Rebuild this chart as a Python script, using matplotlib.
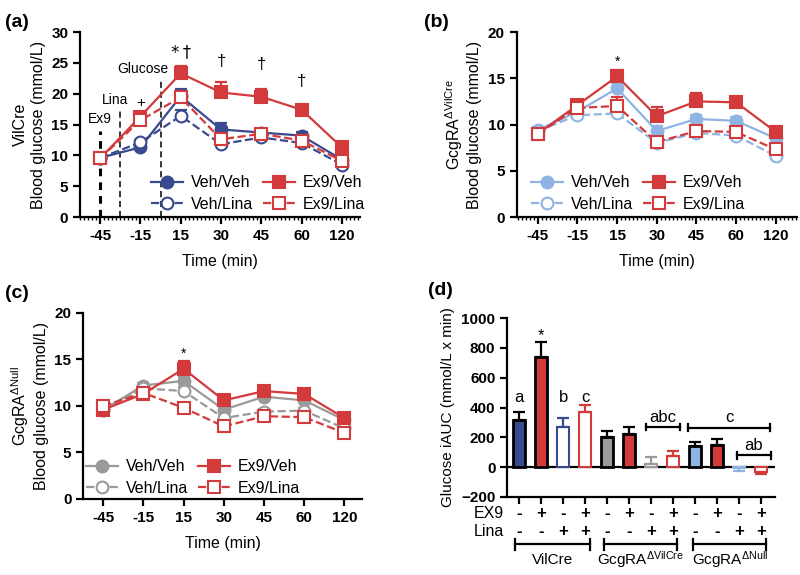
import numpy as np
import matplotlib
matplotlib.use('Agg')
import matplotlib.pyplot as plt
from matplotlib.ticker import MultipleLocator
import matplotlib.transforms as mtrans

plt.rcParams['font.family'] = ['Liberation Sans', 'DejaVu Sans']
plt.rcParams['mathtext.fontset'] = 'custom'
plt.rcParams['mathtext.rm'] = 'Liberation Sans'
plt.rcParams['mathtext.it'] = 'Liberation Sans:italic'
plt.rcParams['mathtext.bf'] = 'Liberation Sans:bold'

times = ['-45', '-15', '15', '30', '45', '60', '120']
series = ['Veh/Veh', 'Veh/Lina', 'Ex9/Veh', 'Ex9/Lina']

# panel a - VilCre
a_vv = [9.6, 11.3, 19.6, 14.2, 13.7, 13.2, 9.3]
a_vl = [9.6, 12.1, 16.4, 11.8, 12.9, 12.0, 8.5]
a_ev = [9.5, 16.3, 23.3, 20.2, 19.5, 17.4, 11.3]
a_el = [9.5, 15.7, 19.4, 12.6, 13.5, 12.4, 9.1]
a_vv_err = [0.3, 0.4, 1.2, 1.0, 0.6, 0.6, 0.5]
a_vl_err = [0.3, 0.4, 1.0, 0.5, 0.4, 0.4, 0.4]
a_ev_err = [0.3, 0.6, 1.2, 1.7, 1.3, 0.6, 0.5]
a_el_err = [0.3, 0.5, 0.8, 0.6, 0.5, 0.5, 0.4]

# panel b - GcgRA dVilCre
b_vv = [9.4, 11.4, 13.9, 9.3, 10.6, 10.4, 8.5]
b_vl = [9.3, 11.0, 11.2, 8.0, 9.1, 8.8, 6.6]
b_ev = [9.0, 12.1, 15.2, 10.9, 12.5, 12.4, 9.2]
b_el = [9.0, 11.8, 12.0, 8.1, 9.3, 9.2, 7.3]
b_vv_err = [0.3, 0.4, 0.6, 0.5, 0.4, 0.4, 0.4]
b_vl_err = [0.3, 0.4, 0.5, 0.3, 0.3, 0.3, 0.3]
b_ev_err = [0.3, 0.4, 0.7, 1.0, 0.9, 0.4, 0.4]
b_el_err = [0.3, 0.4, 1.0, 0.4, 0.4, 0.4, 0.4]

# panel c - GcgRA dNull
c_vv = [9.6, 12.2, 12.7, 9.6, 11.0, 10.6, 8.5]
c_vl = [9.6, 11.9, 11.6, 8.7, 9.4, 9.5, 7.6]
c_ev = [9.6, 11.3, 14.0, 10.6, 11.6, 11.3, 8.7]
c_el = [10.0, 11.4, 9.8, 7.8, 8.9, 8.8, 7.1]
c_vv_err = [0.3, 0.3, 0.4, 0.5, 0.4, 0.4, 0.4]
c_vl_err = [0.3, 0.3, 0.4, 0.3, 0.3, 0.3, 0.3]
c_ev_err = [0.3, 0.3, 0.8, 0.6, 0.3, 0.3, 0.3]
c_el_err = [0.3, 0.3, 0.3, 0.3, 0.3, 0.3, 0.3]

# panel d - iAUC
auc = [316, 742, 267, 370, 204, 222, 20, 76, 141, 152, -5, -30]
auc_err = [56, 96, 60, 47, 36, 49, 45, 32, 25, 36, 20, 15]
ex9_row = ['-', '+', '-', '+'] * 3
lina_row = ['-', '-', '+', '+'] * 3
groups = ['VilCre', r'GcgRA$^{\Delta\mathrm{VilCre}}$', r'GcgRA$^{\Delta\mathrm{Null}}$']

navy = '#3a4a8e'
red = '#d23a3c'
lblue = '#8fb4e3'
grey = '#9a9a9a'

fig = plt.figure(figsize=(8, 5.75), dpi=100)


def style(ax):
    for s in ['top', 'right']:
        ax.spines[s].set_visible(False)
    for s in ['left', 'bottom']:
        ax.spines[s].set_linewidth(1.6)
    ax.tick_params(width=1.6, length=5, labelsize=11)
    for lab in ax.get_xticklabels() + ax.get_yticklabels():
        lab.set_fontweight('bold')


def timecourse(ax, vv, vl, ev, el, errs, col, minor=True):
    x = np.arange(len(times))
    lines = []
    for y, e, c, mk, ls, filled in [(vv, errs[0], col, 'o', '-', True),
                                     (vl, errs[1], col, 'o', '--', False),
                                     (ev, errs[2], red, 's', '-', True),
                                     (el, errs[3], red, 's', '--', False)]:
        ax.errorbar(x, y, yerr=[np.zeros(len(e)), e], fmt='none', ecolor=c,
                    elinewidth=1.6, capsize=4, capthick=1.6, zorder=2)
        ln, = ax.plot(x, y, ls=ls, color=c, lw=1.6, marker=mk, markersize=8.5,
                      markerfacecolor=c if filled else 'white',
                      markeredgecolor=c, markeredgewidth=1.5, zorder=3)
        lines.append(ln)
    ax.set_xticks(x)
    ax.set_xticklabels(times)
    ax.set_xlim(-0.5, 6.45)
    ax.set_xlabel('Time (min)', fontsize=11.5, labelpad=8)
    if minor:
        ax.xaxis.set_minor_locator(MultipleLocator(0.1))
        ax.tick_params(axis='x', which='minor', length=2, width=1)
    style(ax)
    return lines


leg_kw = dict(ncol=2, frameon=False, fontsize=11.5, handlelength=2,
              columnspacing=0.6, handletextpad=0.5, labelspacing=0.4)

# (a)
ax1 = fig.add_axes([0.10, 0.6226, 0.35, 0.3217])
h = timecourse(ax1, a_vv, a_vl, a_ev, a_el,
               [a_vv_err, a_vl_err, a_ev_err, a_el_err], navy)
ax1.set_ylim(0, 30)
ax1.set_yticks(range(0, 31, 5))
ax1.set_ylabel('VilCre\nBlood glucose (mmol/L)', fontsize=11.5)
ax1.vlines(0, 0, 14, colors='k', linestyles=(0, (2.5, 2)), lw=2.2, zorder=1)
ax1.vlines(0.5, 0, 17.5, colors='k', linestyles=(0, (4, 2.5)), lw=1.1, zorder=1)
ax1.vlines(1.5, 0, 22.5, colors='k', linestyles=(0, (4, 2.5)), lw=1.1, zorder=1)
ax1.text(0.0, 15.2, 'Ex9', ha='center', fontsize=10)
ax1.text(0.7, 18.4, 'Lina', ha='right', fontsize=10)
ax1.text(1.7, 23.4, 'Glucose', ha='right', fontsize=10)
ax1.text(1, 17.8, '+', ha='center', fontsize=11)
ax1.text(2, 26.0, '*\u2009\u2020', ha='center', fontsize=12, family=['DejaVu Sans'])
for xi, yi in [(3, 24.5), (4, 24.0), (5, 21.2)]:
    ax1.text(xi, yi, '\u2020', ha='center', fontsize=12)
ax1.legend(h, series, loc='lower right', bbox_to_anchor=(1.07, -0.05), **leg_kw)

# (b)
ax2 = fig.add_axes([0.646, 0.6226, 0.35, 0.3217])
h = timecourse(ax2, b_vv, b_vl, b_ev, b_el,
               [b_vv_err, b_vl_err, b_ev_err, b_el_err], lblue)
ax2.set_xlim(-0.53, 6.53)
ax2.set_ylim(0, 20)
ax2.set_yticks(range(0, 21, 5))
ax2.set_ylabel('GcgRA$^{\\Delta\\mathrm{VilCre}}$\nBlood glucose (mmol/L)', fontsize=11.5)
ax2.text(2, 16.3, '*', ha='center', fontsize=10)
ax2.legend(h, series, loc='lower left', bbox_to_anchor=(0.0, -0.05), **leg_kw)

# (c)
ax3 = fig.add_axes([0.104, 0.1322, 0.349, 0.3235])
h = timecourse(ax3, c_vv, c_vl, c_ev, c_el,
               [c_vv_err, c_vl_err, c_ev_err, c_el_err], grey, minor=False)
ax3.set_ylim(0, 20)
ax3.set_yticks(range(0, 21, 5))
ax3.set_ylabel('GcgRA$^{\\Delta\\mathrm{Null}}$\nBlood glucose (mmol/L)', fontsize=11.5)
ax3.text(2, 15.2, '*', ha='center', fontsize=10)
ax3.legend(h, series, loc='lower left', bbox_to_anchor=(-0.04, -0.06), **leg_kw)

# (d)
ax4 = fig.add_axes([0.634, 0.1357, 0.335, 0.311])
xb = np.arange(len(auc))
fills = [navy, red, 'white', 'white', grey, red, 'white', 'white', lblue, red, 'white', 'white']
edges = ['k', 'k', navy, red, 'k', 'k', grey, red, 'k', 'k', lblue, red]
ecols = ['k', 'k', navy, red, 'k', 'k', grey, red, 'k', 'k', lblue, red]
for i in range(len(auc)):
    lw = 2.0 if edges[i] == 'k' else 1.5
    ax4.bar(xb[i], auc[i], width=0.53, color=fills[i], edgecolor=edges[i],
            linewidth=lw, zorder=2)
    if auc[i] >= 0:
        ye = [[0], [auc_err[i]]]
    else:
        ye = [[auc_err[i]], [0]]
    ax4.errorbar(xb[i], auc[i], yerr=ye, fmt='none', ecolor=ecols[i],
                 elinewidth=1.6, capsize=4, capthick=1.6, zorder=3)
ax4.axhline(0, color='k', lw=1.6, zorder=1)
ax4.set_xlim(-0.55, 11.65)
ax4.set_ylim(-200, 1000)
ax4.set_yticks(range(-200, 1001, 200))
ax4.set_xticks(xb)
ax4.set_xticklabels([])
ax4.set_ylabel('Glucose iAUC (mmol/L x min)', fontsize=11)
style(ax4)

for xi, yi, s in [(0, 440, 'a'), (2, 440, 'b'), (3, 440, 'c')]:
    ax4.text(xi, yi, s, ha='center', fontsize=12)
ax4.text(1, 850, '*', ha='center', fontsize=12)


def bracket(ax, x0, x1, y, label, ly):
    ax.plot([x0, x1], [y, y], color='k', lw=1.6)
    ax.plot([x0, x0], [y - 22, y + 22], color='k', lw=1.6)
    ax.plot([x1, x1], [y - 22, y + 22], color='k', lw=1.6)
    ax.text((x0 + x1) / 2, ly, label, ha='center', fontsize=12)


bracket(ax4, 5.75, 7.3, 270, 'abc', 305)
bracket(ax4, 7.7, 11.4, 265, 'c', 300)
bracket(ax4, 9.9, 11.45, 80, 'ab', 115)

tr = mtrans.blended_transform_factory(ax4.transData, ax4.transAxes)
for i in range(len(auc)):
    ax4.text(xb[i], -0.095, ex9_row[i], transform=tr, ha='center', va='center',
             fontsize=12, fontweight='bold')
    ax4.text(xb[i], -0.195, lina_row[i], transform=tr, ha='center', va='center',
             fontsize=12, fontweight='bold')
ax4.text(-0.125, -0.095, 'EX9', transform=ax4.transAxes, ha='left', va='center', fontsize=11.5)
ax4.text(-0.125, -0.195, 'Lina', transform=ax4.transAxes, ha='left', va='center', fontsize=11.5)
for (g0, g1), name in zip([(-0.2, 3.2), (3.85, 7.2), (7.9, 11.25)], groups):
    ax4.plot([g0, g1], [-0.265, -0.265], transform=tr, color='k', lw=1.6, clip_on=False)
    for gx in (g0, g1):
        ax4.plot([gx, gx], [-0.235, -0.295], transform=tr, color='k', lw=1.6, clip_on=False)
    ax4.text((g0 + g1) / 2, -0.35, name, transform=tr, ha='center', va='center', fontsize=11)

for xf, yf, s in [(0.006, 0.975, '(a)'), (0.53, 0.975, '(b)'),
                  (0.006, 0.505, '(c)'), (0.535, 0.51, '(d)')]:
    fig.text(xf, yf, s, fontsize=14, fontweight='bold', va='top')

fig.savefig('out.png', dpi=100)
